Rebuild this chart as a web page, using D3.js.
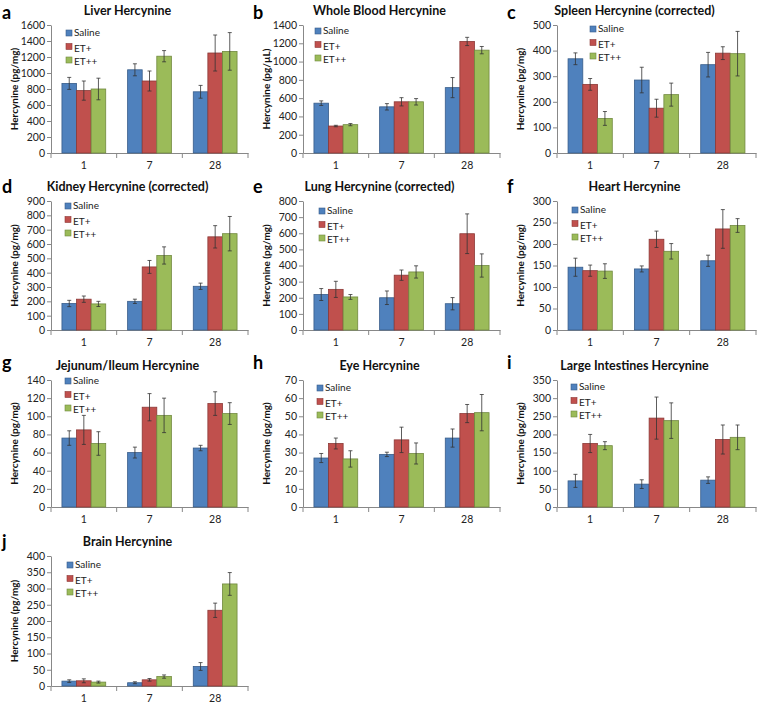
<!DOCTYPE html>
<html><head><meta charset="utf-8">
<script src="https://cdn.jsdelivr.net/npm/d3@7"></script>
<style>
body{margin:0;background:#fff;}
svg text{font-family:Lato,"Liberation Sans",Arial,sans-serif;}
</style></head>
<body><svg id="c" width="760" height="705"></svg>
<script>
// ---------- data ----------
const categories = ["1", "7", "28"];
const seriesNames = ["Saline", "ET+", "ET++"];
const panelLetters = ["a","b","c","d","e","f","g","h","i","j"];
const titles = ["Liver Hercynine","Whole Blood Hercynine","Spleen Hercynine (corrected)",
  "Kidney Hercynine (corrected)","Lung Hercynine (corrected)","Heart Hercynine",
  "Jejunum/Ileum Hercynine","Eye Hercynine","Large Intestines Hercynine","Brain Hercynine"];
const yLabels = ["Hercynine (pg/mg)","Hercynine (pg/µL)","Hercynine (pg/mg)","Hercynine (pg/mg)",
  "Hercynine (pg/mg)","Hercynine (pg/mg)","Hercynine (pg/mg)","Hercynine (pg/mg)",
  "Hercynine (pg/mg)","Hercynine (pg/mg)"];
const yMax  = [1600,1400,500,900,800,300,140,70,350,400];
const yStep = [200,200,100,100,100,50,20,10,50,50];

// means: [Saline, ET+, ET++] x [day 1, 7, 28]
const liverMean  = [[870,1040,765],[780,900,1250],[800,1210,1270]];
const liverErr   = [[75,75,80],[120,125,225],[135,70,235]];
const bloodMean  = [[545,505,715],[295,560,1220],[310,560,1125]];
const bloodErr   = [[25,35,110],[8,45,45],[12,35,40]];
const spleenMean = [[368,285,345],[268,175,390],[135,228,388]];
const spleenErr  = [[23,50,48],[23,35,25],[27,45,87]];
const kidneyMean = [[185,200,305],[215,440,650],[182,520,672]];
const kidneyErr  = [[22,15,22],[22,45,78],[18,60,120]];
const lungMean   = [[220,200,163],[252,340,597],[205,360,400]];
const lungErr    = [[37,42,38],[50,32,123],[15,38,72]];
const heartMean  = [[146,142,161],[138,211,235],[137,183,243]];
const heartErr   = [[21,7,13],[13,19,45],[17,18,16]];
const jejMean    = [[76,60,65],[85,110,114],[70,101,103]];
const jejErr     = [[8,6,3],[16,15,13],[13,19,12]];
const eyeMean    = [[27,29,38],[35,37,51.5],[26.5,29.5,52]];
const eyeErr     = [[2.5,1.2,5],[3,7,5],[4.5,5.8,10]];
const liMean     = [[72,63,74],[175,245,186],[169,238,192]];
const liErr      = [[18,12,9],[25,58,40],[11,49,34]];
const brainMean  = [[15,10,60],[16,19,233],[12,29,314]];
const brainErr   = [[4,3,12],[6,4,22],[3,5,35]];

const allMeans = [liverMean,bloodMean,spleenMean,kidneyMean,lungMean,heartMean,jejMean,eyeMean,liMean,brainMean];
const allErrs  = [liverErr,bloodErr,spleenErr,kidneyErr,lungErr,heartErr,jejErr,eyeErr,liErr,brainErr];

// ---------- layout / style ----------
const colors  = ["#4F81BD","#C0504D","#9BBB59"];
const strokes = ["#385D8A","#8C3836","#71893F"];
const colX = [[51,248],[303,500],[557,756]];
const rowY = [[25,153],[201,330],[380,507],[556,686]];
const letterX = [2,253,507];
const letterY = [19,193,369,548];
const legendDX = [15,12,33,14,16,15,14,14,14,16];
const legendDY = [8,6,4,5,10,9,1,8,7,9];

const svg = d3.select("#c");

allMeans.forEach((means, p) => {
  const col = p % 3, row = Math.floor(p / 3);
  const [x0, x1] = colX[col];
  const [yT, yB] = rowY[row];
  const g = svg.append("g");

  const y = d3.scaleLinear().domain([0, yMax[p]]).range([yB, yT]);
  const x = d3.scaleBand().domain(categories).range([x0, x1]).paddingInner(0).paddingOuter(0);
  const bw = x.bandwidth() / 4.5;
  const xs = d3.scaleBand().domain(seriesNames).range([0, bw * 3]);

  // y axis
  const ticks = d3.range(0, yMax[p] + 1e-9, yStep[p]);
  const yAxis = d3.axisLeft(y).tickValues(ticks).tickSize(4).tickSizeOuter(0).tickFormat(d3.format("d"));
  const ya = g.append("g").attr("transform", `translate(${x0},0)`).call(yAxis);
  ya.select(".domain").attr("stroke", "#888");
  ya.selectAll(".tick line").attr("stroke", "#888");
  ya.selectAll(".tick text").attr("font-size", 10.5).attr("fill", "#222").attr("x", -6);

  // x axis
  const xa = g.append("g").attr("transform", `translate(0,${yB})`)
    .call(d3.axisBottom(x).tickSize(0).tickPadding(9));
  xa.select(".domain").attr("stroke", "#888");
  xa.selectAll(".tick text").attr("font-size", 10.5).attr("fill", "#222");
  // category boundary ticks
  const bounds = categories.map(c => x(c)).concat([x1]);
  g.selectAll(".bt").data(bounds).join("line")
    .attr("x1", d => d).attr("x2", d => d).attr("y1", yB).attr("y2", yB + 5).attr("stroke", "#888");

  // bars
  seriesNames.forEach((s, si) => {
    const gx = c => x(c) + (x.bandwidth() - bw * 3) / 2 + xs(s);
    g.selectAll(null).data(categories).join("rect")
      .attr("x", c => gx(c)).attr("width", bw)
      .attr("y", (c, ci) => y(means[si][ci])).attr("height", (c, ci) => yB - y(means[si][ci]))
      .attr("fill", colors[si]).attr("stroke", strokes[si]).attr("stroke-width", 0.8);
    // error bars
    const errs = allErrs[p][si];
    categories.forEach((c, ci) => {
      const cx = gx(c) + bw / 2;
      const m = means[si][ci], e = errs[ci];
      g.append("line").attr("x1", cx).attr("x2", cx).attr("y1", y(m + e)).attr("y2", y(m - e))
        .attr("stroke", "#333").attr("stroke-width", 0.8);
      [m + e, m - e].forEach(v => g.append("line").attr("x1", cx - 2).attr("x2", cx + 2)
        .attr("y1", y(v)).attr("y2", y(v)).attr("stroke", "#333").attr("stroke-width", 0.8));
    });
  });

  // legend
  const lx = x0 + legendDX[p], ly = yT + legendDY[p];
  seriesNames.forEach((s, si) => {
    const yy = ly + si * 13.5;
    g.append("rect").attr("x", lx).attr("y", yy - 3).attr("width", 6).attr("height", 6)
      .attr("fill", colors[si]).attr("stroke", strokes[si]).attr("stroke-width", 0.6);
    g.append("text").attr("x", lx + 8).attr("y", yy + 3 + (si > 0 ? 2 : 0)).attr("font-size", 10)
      .attr("fill", "#222").text(s);
  });

  // y label
  g.append("text").attr("transform", `translate(${x0 - 33},${(yT + yB) / 2}) rotate(-90)`)
    .attr("text-anchor", "middle").attr("font-size", 10).attr("font-weight", "bold").attr("fill", "#111")
    .text(yLabels[p]);

  // title
  g.append("text").attr("x", (x0 + x1) / 2 - 22).attr("y", yT - 10).attr("text-anchor", "middle")
    .attr("font-size", 12.5).attr("font-weight", "bold").attr("fill", "#111").text(titles[p]);

  // panel letter
  g.append("text").attr("x", letterX[col]).attr("y", letterY[row]).attr("font-size", 18)
    .attr("font-weight", "bold").attr("font-family", "Arial, 'Liberation Sans', sans-serif")
    .attr("fill", "#000").text(panelLetters[p]);
});
</script></body></html>
